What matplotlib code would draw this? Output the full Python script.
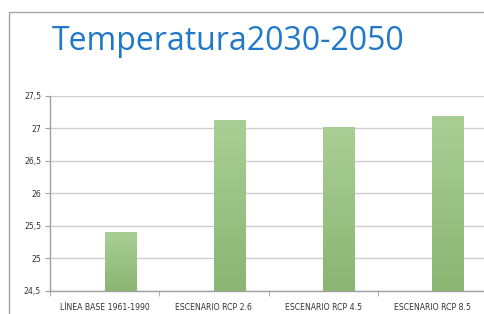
import numpy as np
import matplotlib
matplotlib.use('Agg')
from matplotlib import pyplot as plt
from matplotlib.patches import Rectangle
from matplotlib.colors import LinearSegmentedColormap

# datos
categorias = ['LÍNEA BASE 1961-1990', 'ESCENARIO RCP 2.6', 'ESCENARIO RCP 4.5', 'ESCENARIO RCP 8.5']
temperaturas = [25.40, 27.13, 27.02, 27.19]
yticks = [24.5, 25, 25.5, 26, 26.5, 27, 27.5]
ytick_labels = ['24,5', '25', '25,5', '26', '26,5', '27', '27,5']
titulo = 'Temperatura2030-2050'

W, H = 484, 314
fig = plt.figure(figsize=(W / 100, H / 100), dpi=100)

# marco gris de la diapositiva
fig.patches.append(Rectangle((9 / W, -0.1), 1.2, 1.1 - 12 / H, transform=fig.transFigure,
                             fill=False, ec='#a6a6a6', lw=1.0))

ax = fig.add_axes([50 / W, 23 / H, 437 / W, 195 / H])
x = np.arange(len(categorias))

# barras con degradado verde (como en excel)
cmap = LinearSegmentedColormap.from_list('verde', ['#8ab572', '#aacf96'])
grad = np.linspace(0, 1, 256).reshape(-1, 1)
bars = ax.bar(x, np.array(temperaturas) - 24.5, bottom=24.5, width=0.29, align='edge',
              color='none', zorder=3)
for b in bars:
    x0, y0 = b.get_x(), b.get_y()
    im = ax.imshow(grad, cmap=cmap, aspect='auto', origin='lower', zorder=3,
                   extent=[x0, x0 + b.get_width(), y0, y0 + b.get_height()])
    im.set_clip_path(b)
ax.set_xlim(-0.5, len(categorias) - 0.5)
ax.set_ylim(24.5, 27.5)

ax.set_yticks(yticks)
ax.set_yticklabels(ytick_labels)
ax.yaxis.grid(True, color='#cfcfcf', lw=1.0, zorder=0)
ax.set_axisbelow(True)

ax.set_xticks(x)
ax.set_xticklabels(categorias)
ax.set_xticks(np.arange(len(categorias) + 1) - 0.5, minor=True)
ax.tick_params(axis='x', which='major', length=0, pad=9, labelsize=5.6, labelcolor='#333333')
ax.tick_params(axis='x', which='minor', length=3.5, color='#a0a0a0')
ax.tick_params(axis='y', length=3.5, color='#a0a0a0', labelsize=5.6, labelcolor='#333333', pad=3)
for lab in ax.get_xticklabels() + ax.get_yticklabels():
    lab.set_family('Liberation Sans Narrow')

for s in ['top', 'right']:
    ax.spines[s].set_visible(False)
for s in ['left', 'bottom']:
    ax.spines[s].set_color('#a0a0a0')
    ax.spines[s].set_linewidth(1.0)

fig.text(52 / W, 1 - 42 / H, titulo, color='#1f78c8', fontsize=23, family='Open Sans',
         va='center', ha='left')

fig.savefig('out.png', dpi=100)
